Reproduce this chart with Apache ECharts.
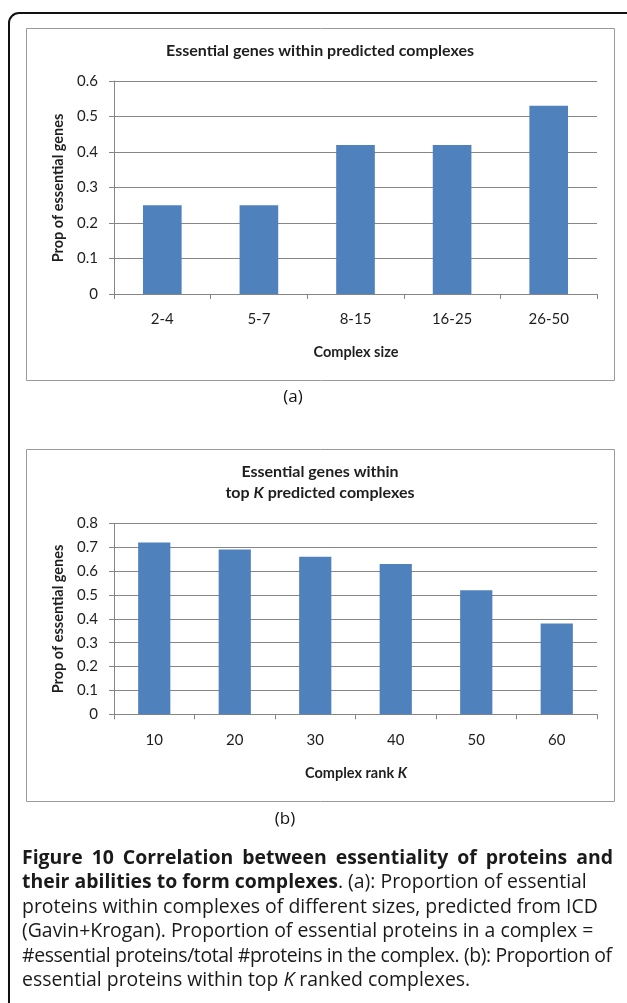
<!DOCTYPE html>
<html>
<head>
<meta charset="utf-8">
<script src="https://cdn.jsdelivr.net/npm/echarts@6/dist/echarts.min.js"></script>
<style>
  html, body { margin: 0; padding: 0; background: #fff; }
  #wrap { position: relative; width: 627px; height: 1003px; overflow: hidden; }
  #chart { position: absolute; left: 0; top: 0; width: 627px; height: 1003px; }
  #caption {
    position: absolute; left: 22px; top: 845px; width: 591px;
    font-family: "Open Sans", sans-serif; font-size: 18px; line-height: 24.4px; color: #1a1a1a;
  }
  #caption span.l { display: block; text-align: left; white-space: nowrap; }
  #caption span.full { text-align: justify; text-align-last: justify; }
  #caption b { font-weight: 700; }
</style>
</head>
<body>
<div id="wrap">
  <div id="chart"></div>
  <div id="caption">
    <span class="l full"><b>Figure 10 Correlation between essentiality of proteins and</b></span>
    <span class="l"><b>their abilities to form complexes</b>. (a): Proportion of essential</span>
    <span class="l" id="refLine">proteins within complexes of different sizes, predicted from ICD</span>
    <span class="l">(Gavin+Krogan). Proportion of essential proteins in a complex =</span>
    <span class="l">#essential proteins/total #proteins in the complex. (b): Proportion of</span>
    <span class="l">essential proteins within top <i>K</i> ranked complexes.</span>
  </div>
</div>
<script>
// Panel (a): essential-gene proportion by complex size
const sizeCategories = ['2-4', '5-7', '8-15', '16-25', '26-50'];
const sizeProportions = [0.25, 0.25, 0.42, 0.42, 0.53];
const sizeTicks = { min: 0, max: 0.6, interval: 0.1 };

// Panel (b): essential-gene proportion within the top K ranked complexes
const rankCategories = ['10', '20', '30', '40', '50', '60'];
const rankProportions = [0.72, 0.69, 0.66, 0.63, 0.52, 0.38];
const rankTicks = { min: 0, max: 0.8, interval: 0.1 };

const BAR = '#4F81BD';
const AXIS = '#868686';
const FONT = 'Lato, "Open Sans", sans-serif';
const INK = '#1e1e1e';

// Size the caption so its third line runs about 576px, then keep every line inside the column
(function fitCaption() {
  const box = document.getElementById('caption');
  const ref = document.getElementById('refLine');
  ref.style.display = 'inline-block';
  const w = ref.getBoundingClientRect().width;
  ref.style.display = '';
  const size = 18 * 576 / w;
  box.style.fontSize = size.toFixed(2) + 'px';
  const target = box.clientWidth;
  box.querySelectorAll('span.l').forEach(line => {
    line.style.display = 'inline-block';
    let ls = 0;
    while (line.getBoundingClientRect().width > target && ls > -1.5) {
      ls -= 0.05;
      line.style.letterSpacing = ls.toFixed(2) + 'px';
    }
    line.style.display = '';
  });
})();

function xAxisFor(gridIndex, cats) {
  return {
    type: 'category', gridIndex, data: cats, boundaryGap: true,
    axisLine: { lineStyle: { color: AXIS, width: 1 } },
    axisTick: { show: true, length: 5, alignWithLabel: false, lineStyle: { color: AXIS } },
    axisLabel: { color: INK, fontFamily: FONT, fontSize: 15, margin: 18 },
    splitLine: { show: false }
  };
}
function yAxisFor(gridIndex, ticks) {
  return {
    type: 'value', gridIndex, min: ticks.min, max: ticks.max, interval: ticks.interval,
    axisLine: { show: true, lineStyle: { color: AXIS, width: 1 } },
    axisTick: { show: true, length: 5, lineStyle: { color: AXIS } },
    axisLabel: { color: INK, fontFamily: FONT, fontSize: 15, margin: 16 },
    splitLine: { show: true, lineStyle: { color: AXIS, width: 1 } }
  };
}

const chart = echarts.init(document.getElementById('chart'), null, { renderer: 'canvas' });

const label = (text, x, y, size, weight, extra) => Object.assign({
  type: 'text', x, y,
  style: { text, fontFamily: FONT, fontSize: size, fontWeight: weight, fill: INK,
           textAlign: 'center', textVerticalAlign: 'middle' }
}, extra || {});

const richLabel = (parts, x, y, size) => ({
  type: 'text', x, y,
  style: {
    text: parts, textAlign: 'center', textVerticalAlign: 'middle',
    rich: {
      n: { fontFamily: FONT, fontSize: size, fontWeight: 'bold', fill: INK },
      i: { fontFamily: FONT, fontSize: size, fontWeight: 'bold', fontStyle: 'italic', fill: INK }
    }
  }
});

const panelTag = (text, x, y) => ({
  type: 'text', x, y,
  style: { text, fontFamily: '"Open Sans", sans-serif', fontSize: 17, fill: '#111',
           textAlign: 'center', textVerticalAlign: 'middle' }
});

chart.setOption({
  animation: false,
  grid: [
    { left: 114, top: 81, width: 483, height: 213 },
    { left: 114, top: 523.3, width: 483, height: 191 }
  ],
  xAxis: [xAxisFor(0, sizeCategories), xAxisFor(1, rankCategories)],
  yAxis: [yAxisFor(0, sizeTicks), yAxisFor(1, rankTicks)],
  series: [
    { type: 'bar', xAxisIndex: 0, yAxisIndex: 0, data: sizeProportions, barWidth: '40%',
      itemStyle: { color: BAR } },
    { type: 'bar', xAxisIndex: 1, yAxisIndex: 1, data: rankProportions, barWidth: '40%',
      itemStyle: { color: BAR } }
  ],
  graphic: [
    // outer figure frame
    { type: 'rect', shape: { x: 9, y: 13, width: 640, height: 1000, r: 10 },
      style: { fill: 'none', stroke: '#111', lineWidth: 2 }, z: -1 },
    // chart area frames
    { type: 'rect', shape: { x: 26.5, y: 28.5, width: 588, height: 352 },
      style: { fill: 'none', stroke: '#9a9a9a', lineWidth: 1 }, z: -1 },
    { type: 'rect', shape: { x: 26.5, y: 449.5, width: 588, height: 352 },
      style: { fill: 'none', stroke: '#9a9a9a', lineWidth: 1 }, z: -1 },

    // panel (a) texts
    label('Essential genes within predicted complexes', 320, 51, 16, 'bold'),
    label('Prop of essential genes', 58, 188, 14.5, 'bold', { rotation: Math.PI / 2 }),
    label('Complex size', 356, 352, 14.5, 'bold'),
    panelTag('(a)', 293, 397),

    // panel (b) texts
    label('Essential genes within', 320, 472, 16, 'bold'),
    richLabel('{n|top }{i|K}{n| predicted complexes}', 320, 493, 16),
    label('Prop of essential genes', 58, 619, 14.5, 'bold', { rotation: Math.PI / 2 }),
    richLabel('{n|Complex rank }{i|K}', 356, 773, 14.5),
    panelTag('(b)', 285, 819)
  ]
});
</script>
</body>
</html>
